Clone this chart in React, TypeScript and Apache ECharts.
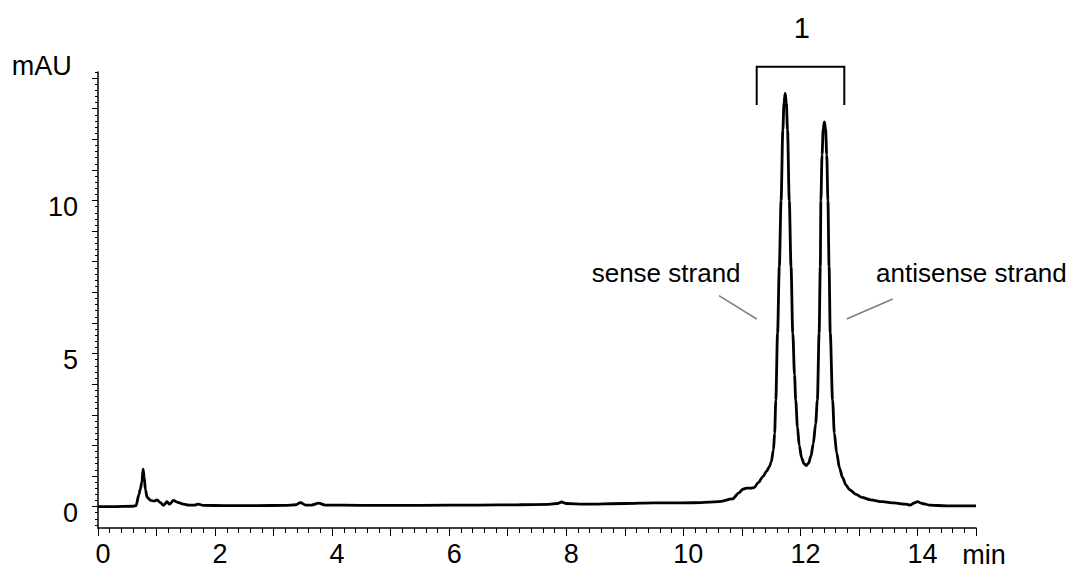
import React, { useEffect, useRef } from "react";
import * as echarts from "echarts";

// Retention time (min) and absorbance (mAU)
const retentionTime = [
  0, 0.3, 0.6, 0.65, 0.7, 0.72, 0.75, 0.77, 0.79, 0.81, 0.84, 0.9, 0.96, 1.01, 1.06, 1.12,
  1.18, 1.22, 1.29, 1.36, 1.46, 1.55, 1.65, 1.71, 1.8, 2.2, 2.7, 3.2, 3.38, 3.46, 3.55, 3.65,
  3.77, 3.88, 4.5, 5.5, 6.5, 7.2, 7.7, 7.85, 7.92, 8.0, 8.3, 9.0, 9.5, 10.0, 10.3, 10.6,
  10.84, 10.95, 11.02, 11.08, 11.15, 11.21, 11.28, 11.36, 11.42, 11.47, 11.5, 11.54, 11.56,
  11.58, 11.61, 11.64, 11.67, 11.7, 11.72, 11.74, 11.76, 11.78, 11.81, 11.84, 11.87, 11.9,
  11.92, 11.95, 11.98, 12.02, 12.06, 12.1, 12.14, 12.18, 12.22, 12.26, 12.29, 12.32, 12.34,
  12.35, 12.37, 12.39, 12.41, 12.43, 12.45, 12.47, 12.49, 12.51, 12.55, 12.58, 12.62, 12.67,
  12.72, 12.78, 12.84, 12.95, 13.05, 13.2, 13.4, 13.6, 13.8, 13.88, 13.95, 14.0, 14.08, 14.2,
  14.5, 15.0,
];
const absorbance = [
  0, 0, 0.01, 0.03, 0.4, 0.55, 0.8, 1.22, 0.95, 0.55, 0.3, 0.2, 0.18, 0.22, 0.14, 0.04,
  0.16, 0.08, 0.2, 0.14, 0.08, 0.05, 0.05, 0.08, 0.04, 0.03, 0.03, 0.04, 0.06, 0.13, 0.05, 0.05,
  0.11, 0.05, 0.04, 0.04, 0.05, 0.06, 0.07, 0.1, 0.15, 0.1, 0.08, 0.1, 0.12, 0.12, 0.13, 0.16,
  0.25, 0.45, 0.57, 0.6, 0.6, 0.62, 0.78, 0.98, 1.15, 1.3, 1.45, 1.85, 2.4,
  3.48, 5.67, 7.84, 10.0, 12.3, 13.2, 13.5, 13.2, 12.3, 10.0, 7.84, 5.67, 4.3,
  3.48, 2.6, 2.0, 1.6, 1.4, 1.34, 1.42, 1.65, 2.05, 2.7, 3.48, 5.67, 7.84,
  10.0, 11.5, 12.35, 12.57, 12.35, 11.5, 10.0, 7.84, 5.67, 3.48, 2.4, 1.75, 1.25,
  0.95, 0.7, 0.55, 0.4, 0.3, 0.22, 0.16, 0.12, 0.08, 0.05, 0.12, 0.16, 0.1, 0.05,
  0.02, 0.02,
];

const xLabelValues = [0, 2, 4, 6, 8, 10, 12, 14];
const yLabelValues = [0, 5, 10];
const yMajorTicks = [0, 1, 2, 3, 4, 5, 6, 7, 8, 9, 10, 11, 12, 13, 14];
const yMinorTicks = [
  -0.6, -0.4, -0.2,
  0.2, 0.4, 0.6, 0.8, 1.2, 1.4, 1.6, 1.8, 2.2, 2.4, 2.6, 2.8, 3.2, 3.4, 3.6, 3.8,
  4.2, 4.4, 4.6, 4.8, 5.2, 5.4, 5.6, 5.8, 6.2, 6.4, 6.6, 6.8, 7.2, 7.4, 7.6, 7.8,
  8.2, 8.4, 8.6, 8.8, 9.2, 9.4, 9.6, 9.8, 10.2, 10.4, 10.6, 10.8, 11.2, 11.4, 11.6, 11.8,
  12.2, 12.4, 12.6, 12.8, 13.2, 13.4, 13.6, 13.8, 14.2,
];

const FONT = "Arial, 'Liberation Sans', Helvetica, sans-serif";

export default function App() {
  const ref = useRef<HTMLDivElement>(null);

  useEffect(() => {
    if (!ref.current) return;
    const chart = echarts.init(ref.current, null, { renderer: "svg" });
    const data = retentionTime.map((t, i) => [t, absorbance[i]]);
    const yMin = -0.7;
    const yMax = 14.2;

    chart.setOption({
      animation: false,
      backgroundColor: "#ffffff",
      grid: { left: 98, right: 95, top: 72, bottom: 41, containLabel: false },
      xAxis: {
        type: "value",
        min: 0,
        max: 15,
        interval: 1,
        axisLine: { show: true, onZero: false, lineStyle: { color: "#000", width: 1.5 } },
        axisTick: { show: true, length: 8, lineStyle: { color: "#000", width: 1 } },
        minorTick: { show: true, splitNumber: 5, length: 5, lineStyle: { color: "#000", width: 1 } },
        splitLine: { show: false },
        minorSplitLine: { show: false },
        axisLabel: {
          customValues: xLabelValues,
          formatter: (v: number) => (v % 2 === 0 ? String(v) : ""),
          color: "#000",
          fontSize: 27,
          fontFamily: FONT,
          margin: 12,
          padding: [0, 0, 0, 10],
        },
      },
      yAxis: [
        {
          type: "value",
          position: "left",
          min: yMin,
          max: yMax,
          axisLine: { show: true, onZero: false, lineStyle: { color: "#000", width: 1.5 } },
          axisTick: { show: true, customValues: yMajorTicks, length: 6, lineStyle: { color: "#000", width: 1 } },
          splitLine: { show: false },
          axisLabel: {
            customValues: yLabelValues,
            color: "#000",
            fontSize: 27,
            fontFamily: FONT,
            margin: 20,
            verticalAlign: "top",
            lineHeight: 12,
          },
        },
        {
          type: "value",
          position: "left",
          offset: 0,
          min: yMin,
          max: yMax,
          axisLine: { show: false, onZero: false },
          axisTick: { show: true, customValues: yMinorTicks, length: 3, lineStyle: { color: "#000", width: 1 } },
          splitLine: { show: false },
          axisLabel: { show: false },
        },
      ],
      series: [
        {
          type: "line",
          xAxisIndex: 0,
          yAxisIndex: 0,
          data,
          showSymbol: false,
          symbol: "none",
          smooth: 0.3,
          smoothMonotone: "x",
          lineStyle: { color: "#000", width: 2.8 },
        },
      ],
      graphic: [
        {
          type: "text",
          x: 11.7,
          y: 66.3,
          style: { text: "mAU", fontSize: 27, fontFamily: FONT, fill: "#000", verticalAlign: "middle", align: "left" },
        },
        {
          type: "text",
          x: 984,
          y: 555,
          style: { text: "min", fontSize: 27, fontFamily: FONT, fill: "#000", verticalAlign: "middle", align: "center" },
        },
        {
          type: "text",
          x: 801.7,
          y: 27.5,
          style: { text: "1", fontSize: 29, fontFamily: FONT, fill: "#000", verticalAlign: "middle", align: "center" },
        },
        {
          type: "polyline",
          shape: { points: [[756.7, 105], [756.7, 66.7], [844.3, 66.7], [844.3, 105]] },
          style: { stroke: "#000", lineWidth: 2, fill: "none" },
        },
        {
          type: "text",
          x: 591.7,
          y: 273.4,
          style: { text: "sense strand", fontSize: 26, fontFamily: FONT, fill: "#000", verticalAlign: "middle", align: "left" },
        },
        {
          type: "text",
          x: 876,
          y: 273.4,
          style: { text: "antisense strand", fontSize: 26, fontFamily: FONT, fill: "#000", verticalAlign: "middle", align: "left" },
        },
        {
          type: "line",
          shape: { x1: 719, y1: 295.7, x2: 756.7, y2: 319 },
          style: { stroke: "#808080", lineWidth: 1.5 },
        },
        {
          type: "line",
          shape: { x1: 892.7, y1: 299, x2: 846.7, y2: 319 },
          style: { stroke: "#808080", lineWidth: 1.5 },
        },
      ],
    });

    return () => {
      chart.dispose();
    };
  }, []);

  return (
    <div
      ref={ref}
      style={{ position: "fixed", left: 0, top: 0, width: 1071, height: 569, background: "#fff" }}
    />
  );
}
